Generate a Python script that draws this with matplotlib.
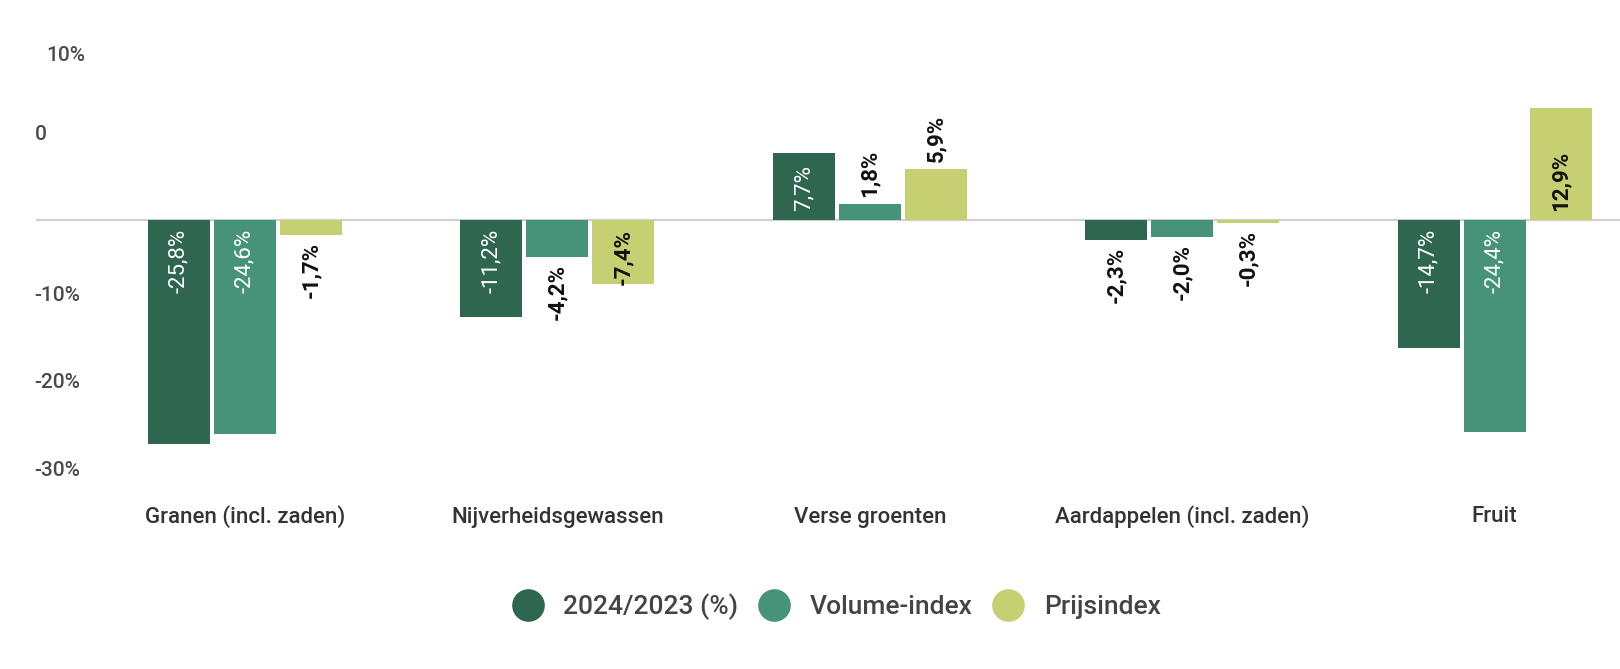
import numpy as np
import matplotlib
matplotlib.use("Agg")
import matplotlib.pyplot as plt
from matplotlib.lines import Line2D

plt.rcParams['font.family'] = ['Roboto', 'DejaVu Sans']

categories = ["Granen (incl. zaden)", "Nijverheidsgewassen", "Verse groenten",
              "Aardappelen (incl. zaden)", "Fruit"]
series_names = ["2024/2023 (%)", "Volume-index", "Prijsindex"]
change = [-25.8, -11.2, 7.7, -2.3, -14.7]
volume = [-24.6, -4.2, 1.8, -2.0, -24.4]
price = [-1.7, -7.4, 5.9, -0.3, 12.9]
values = [change, volume, price]

# the y labels in the source sit at odd spots, keep them where they are
ytick_pos = [19.2, 10.1, -8.5, -18.5, -28.6]
ytick_lab = ["10%", "0", "-10%", "-20%", "-30%"]

colors = ["#2e6650", "#47937a", "#c6cf72"]
inside_txt = ["white", "white", "#111111"]

W, H = 1620, 669
fig = plt.figure(figsize=(W / 100, H / 100), dpi=100)
ax = fig.add_axes([36 / W, 1 - 481 / H, (W - 36) / W, (481 - 40) / H])

x = np.arange(len(categories))
bw = 62 / 312.4
step = 66 / 312.4
px_per = (481 - 40) / 50.7  # pixels per % unit

for s, vals in enumerate(values):
    xs = x + (s - 1) * step
    ax.bar(xs, vals, width=bw, color=colors[s], edgecolor="none", zorder=2)
    for xi, v in zip(xs, vals):
        lab = f"{v:.1f}%".replace(".", ",")
        if abs(v) >= 7:
            # inside the bar, starting from the base
            off = 9 / px_per
            y = -off if v < 0 else off
            va = "top" if v < 0 else "bottom"
            col = inside_txt[s]
            fw = "normal" if s < 2 else "bold"
        else:
            off = 7 / px_per
            y = v - off if v < 0 else v + off
            va = "top" if v < 0 else "bottom"
            col = "#111111"
            fw = "bold"
        ax.text(xi, y, lab, rotation=90, ha="center", va=va, color=col,
                fontsize=16, fontweight=fw, zorder=3)

ax.axhline(0, color="#d0d0d0", lw=1.6, zorder=1)

ax.set_xlim(-0.669, 4.401)
ax.set_ylim(-30, 20.7)
for sp in ax.spines.values():
    sp.set_visible(False)

ax.set_xticks([])
ax.set_yticks(ytick_pos, ytick_lab)
ax.tick_params(axis="y", length=0, pad=1, labelsize=15, labelcolor="#4a4a4a")
for t in ax.get_yticklabels():
    t.set_horizontalalignment("left")
    t.set_fontweight("medium")
ax.yaxis.get_major_ticks()[0].label1.set_x(12 / (W - 36))

for xi, c in zip(x, categories):
    ax.annotate(c, (xi, 0), xycoords=("data", "figure fraction"),
                xytext=(xi, 1 - 517 / H), textcoords=("data", "figure fraction"),
                ha="center", va="center", fontsize=16, fontweight="medium",
                color="#333333")

handles = [Line2D([], [], ls="none", marker="o", markersize=23.5,
                  markerfacecolor=c, markeredgecolor="none") for c in colors]
fig.legend(handles, series_names, loc="center", bbox_to_anchor=(837 / W, 1 - 607 / H),
           ncol=3, frameon=False, handletextpad=0.8, columnspacing=0.8,
           handlelength=1.1, prop={"size": 19, "weight": "medium"},
           labelcolor="#444444")

fig.savefig("out.png", dpi=100, facecolor="white")
